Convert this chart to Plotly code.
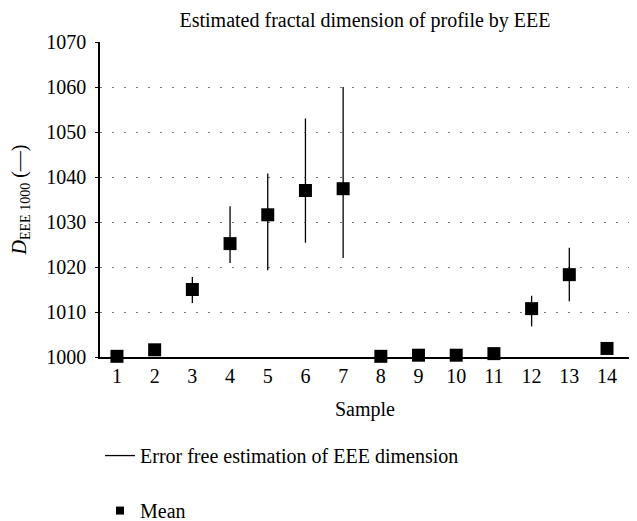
import plotly.graph_objects as go

# sample numbers and estimated values
samples = [1, 2, 3, 4, 5, 6, 7, 8, 9, 10, 11, 12, 13, 14]
mean_dim = [1000.15, 1001.6, 1015.0, 1025.2, 1031.6, 1037.0, 1037.4,
            1000.15, 1000.4, 1000.4, 1000.75, 1010.75, 1018.3, 1001.9]
err_low = [None, None, 1012.0, 1020.9, 1019.3, 1025.4, 1022.0,
           None, None, None, None, 1006.8, 1012.4, None]
err_high = [None, None, 1017.8, 1033.5, 1040.8, 1053.0, 1060.0,
            None, None, None, None, 1013.6, 1024.3, None]
y_ticks = [1000, 1010, 1020, 1030, 1040, 1050, 1060, 1070]

FONT = "Liberation Serif"
FS = 20

# vertical segments for the error free estimation range
seg_x, seg_y = [], []
for s, lo, hi in zip(samples, err_low, err_high):
    if lo is None:
        continue
    seg_x += [s, s, None]
    seg_y += [lo, hi, None]

fig = go.Figure()
fig.add_trace(go.Scatter(
    x=seg_x, y=seg_y,
    mode="lines",
    line=dict(color="black", width=1.3),
    showlegend=False,
    cliponaxis=False,
))
fig.add_trace(go.Scatter(
    x=samples, y=mean_dim,
    mode="markers",
    marker=dict(symbol="square", color="black", size=13),
    showlegend=False,
    cliponaxis=False,
))

# legend entries (smaller symbols like the reference key)
fig.add_trace(go.Scatter(
    x=[None], y=[None], mode="lines",
    line=dict(color="black", width=1.3),
    name="Error free estimation of EEE dimension",
    legendgroup="a",
))
fig.add_trace(go.Scatter(
    x=[None], y=[None], mode="markers",
    marker=dict(symbol="square", color="black", size=8),
    name="Mean",
    legendgroup="b",
))

# the page body adds an 8px margin, so the figure is 8px smaller
fig.update_layout(
    width=629, height=513,
    margin=dict(l=92, r=7, t=34, b=164, autoexpand=False),
    paper_bgcolor="white",
    plot_bgcolor="white",
    font=dict(family=FONT, size=FS, color="black"),
    title=dict(text="Estimated fractal dimension of profile by EEE",
               xref="paper", x=0.5, xanchor="center",
               yref="container", y=0.976, yanchor="middle",
               font=dict(family=FONT, size=FS, color="black")),
    showlegend=True,
    legend=dict(x=0.0, xanchor="left", y=-0.251, yanchor="top",
                traceorder="grouped", tracegroupgap=26,
                font=dict(family=FONT, size=FS, color="black"),
                bgcolor="rgba(0,0,0,0)"),
)
fig.update_xaxes(
    range=[0.55, 14.61],
    tickmode="array", tickvals=samples, ticktext=[str(s) for s in samples],
    showgrid=False, zeroline=False, automargin=False,
    showline=True, linecolor="black", linewidth=1.5,
    ticks="", ticklabelstandoff=0,
    title=dict(text="Sample", standoff=16, font=dict(family=FONT, size=FS)),
)
fig.update_yaxes(
    range=[1000, 1070],
    tickmode="array", tickvals=y_ticks,
    showgrid=True, gridcolor="#7a7a7a", griddash="1.5px,10.5px", gridwidth=1,
    zeroline=False, automargin=False,
    showline=True, linecolor="black", linewidth=1.5,
    ticks="outside", ticklen=3, tickcolor="black", ticklabelstandoff=5,
    title=dict(text="<i>D</i><sub>EEE 1000</sub> (—)", standoff=16,
               font=dict(family=FONT, size=FS)),
)

fig.write_html("out.html")
